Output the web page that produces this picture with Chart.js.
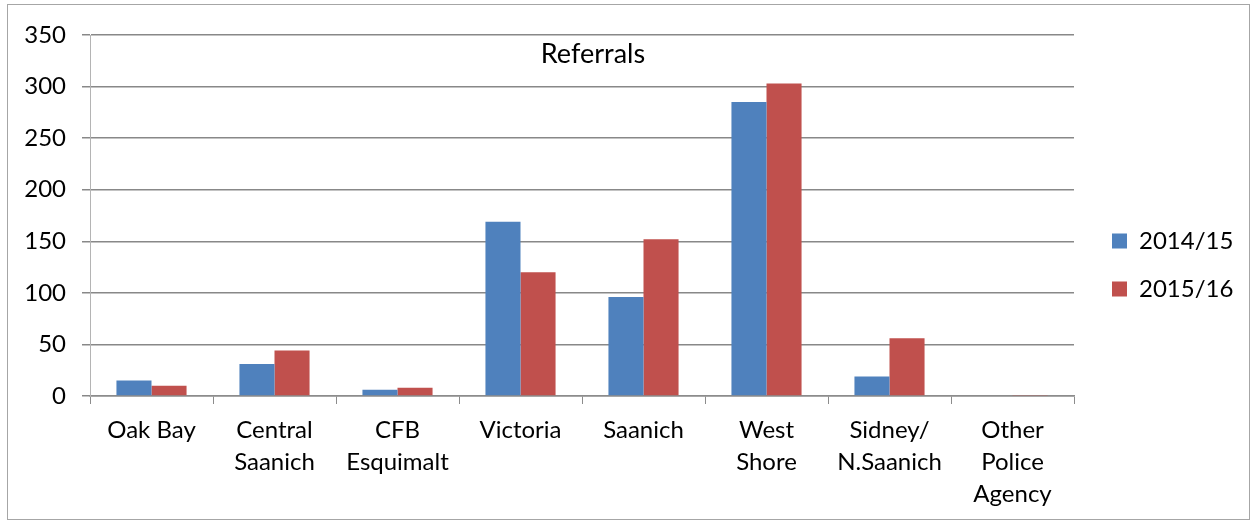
<!DOCTYPE html>
<html>
<head>
<meta charset="utf-8">
<script src="https://cdn.jsdelivr.net/npm/chart.js@4.4.1/dist/chart.umd.min.js"></script>
<style>
  html, body { margin: 0; padding: 0; background: #ffffff; }
  #wrap { position: relative; width: 1253px; height: 525px; }
</style>
</head>
<body>
<div id="wrap"><canvas id="c" width="1253" height="525"></canvas></div>
<script>
const categories = [
  "Oak Bay",
  ["Central", "Saanich"],
  ["CFB", "Esquimalt"],
  "Victoria",
  "Saanich",
  ["West", "Shore"],
  ["Sidney/", "N.Saanich"],
  ["Other", "Police", "Agency"]
];
const series2014 = [15, 31, 6, 169, 96, 285, 19, 0];
const series2015 = [10, 44, 8, 120, 152, 303, 56, 1];
const seriesNames = ["2014/15", "2015/16"];
const yTicks = [0, 50, 100, 150, 200, 250, 300, 350];
const chartTitle = "Referrals";

const FONT = "Lato, 'Open Sans', sans-serif";

const framePlugin = {
  id: "frame",
  beforeDraw(chart) {
    const ctx = chart.ctx;
    ctx.save();
    ctx.fillStyle = "#ffffff";
    ctx.fillRect(0, 0, chart.width, chart.height);
    ctx.strokeStyle = "#a6a6a6";
    ctx.lineWidth = 1;
    ctx.strokeRect(7.5, 4.5, 1242, 515);
    ctx.restore();
  },
  afterDatasetsDraw(chart) {
    const ctx = chart.ctx;
    const a = chart.chartArea;
    ctx.save();
    ctx.font = "27px " + FONT;
    ctx.fillStyle = "#000000";
    ctx.textAlign = "center";
    ctx.textBaseline = "middle";
    ctx.fillText(chartTitle, (a.left + a.right) / 2 + 11, a.top + 19);
    ctx.restore();
  }
};

const legendPlugin = {
  id: "legendPlace",
  beforeLayout(chart) {
    const lg = chart.legend;
    if (lg && !lg._wrapped) {
      const orig = lg.fit;
      lg.fit = function () {
        orig.call(this);
        if (this.isHorizontal && !this.isHorizontal()) this.width = 179;
      };
      lg._wrapped = true;
    }
  },
  afterLayout(chart) {
    const lg = chart.legend;
    if (lg) {
      const shift = 14;
      lg.left += shift;
      lg.right = lg.left + lg.width - shift;
      lg.top -= 12.5;
      lg.bottom -= 12.5;
    }
  }
};

new Chart(document.getElementById("c"), {
  type: "bar",
  data: {
    labels: categories,
    datasets: [
      {
        label: seriesNames[0],
        data: series2014,
        backgroundColor: "#4F81BD",
        borderWidth: 0,
        categoryPercentage: 0.57,
        barPercentage: 1.0
      },
      {
        label: seriesNames[1],
        data: series2015,
        backgroundColor: "#C0504D",
        borderWidth: 0,
        categoryPercentage: 0.57,
        barPercentage: 1.0
      }
    ]
  },
  options: {
    responsive: false,
    animation: false,
    devicePixelRatio: 1,
    layout: { padding: { left: 8, right: 0, top: 35, bottom: 5 } },
    plugins: {
      title: { display: false },
      tooltip: { enabled: false },
      legend: {
        display: true,
        position: "right",
        align: "center",
        labels: {
          font: { family: FONT, size: 24 },
          color: "#000000",
          boxWidth: 15,
          boxHeight: 15,
          padding: 24
        }
      }
    },
    scales: {
      x: {
        offset: true,
        grid: {
          offset: true,
          drawOnChartArea: false,
          drawTicks: true,
          tickLength: 8,
          color: "#8c8c8c",
          lineWidth: 1
        },
        border: { color: "#8c8c8c", width: 1.5 },
        ticks: {
          font: { family: FONT, size: 24, lineHeight: "32px" },
          color: "#000000",
          padding: 10,
          maxRotation: 0,
          autoSkip: false
        }
      },
      y: {
        min: 0,
        max: 350,
        afterFit(scale) { scale.width = 82; },
        afterBuildTicks(scale) { scale.ticks = yTicks.map(v => ({ value: v })); },
        grid: {
          color: "#888888",
          lineWidth: 1.5,
          tickLength: 8,
          drawTicks: true
        },
        border: { color: "#b4b4b4", width: 1 },
        ticks: {
          font: { family: FONT, size: 24 },
          color: "#000000",
          padding: 16
        }
      }
    }
  },
  plugins: [framePlugin, legendPlugin]
});
</script>
</body>
</html>
